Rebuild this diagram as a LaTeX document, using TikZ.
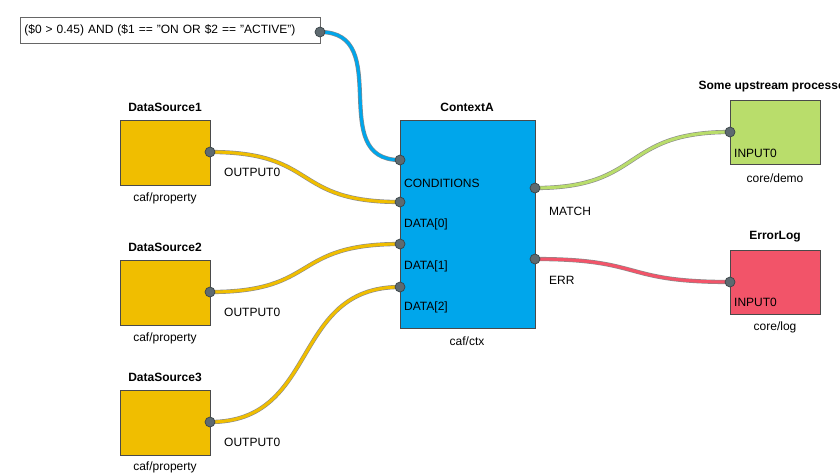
\documentclass[tikz,border=0pt]{standalone}
\usepackage{fontspec}
\setmainfont{Liberation Sans}
\definecolor{srcyellow}{HTML}{F0BE00}
\definecolor{ctxblue}{HTML}{00A6EB}
\definecolor{demogreen}{HTML}{B9DD6B}
\definecolor{logred}{HTML}{F25469}
\definecolor{boxedge}{HTML}{4A4A4A}
\definecolor{cableedge}{HTML}{8A8A8A}
\definecolor{portfill}{HTML}{5E6A70}
\definecolor{portedge}{HTML}{3A4448}
\begin{document}
\begin{tikzpicture}[x=1pt, y=-1pt, font=\fontsize{12}{14}\selectfont,
    block/.style={draw=boxedge, line width=0.8pt, anchor=north west, inner sep=0pt, minimum width=90pt, minimum height=65pt},
    title/.style={font=\fontsize{12}{14}\selectfont\bfseries},
    plabel/.style={anchor=west, inner sep=0pt},
    port/.style={circle, fill=portfill, draw=portedge, line width=0.7pt, inner sep=0pt, minimum size=10pt},
    cable/.style={draw=cableedge, line width=0.6pt, double=#1, double distance=3pt}]
    \useasboundingbox (0,0) rectangle (840,475);

    % Condition text
    \node[draw=gray!80!black, fill=white, line width=0.8pt, anchor=north west, minimum width=300pt, minimum height=26pt, inner sep=4pt, text width=292pt] (cond) at (20,17) {(\$0 > 0.45) AND (\$1 == "ON OR \$2 == "ACTIVE")};
    \coordinate (cond-out) at (320,32);

    % Data sources
    \node[block, fill=srcyellow] (ds1) at (120,120) {};
    \node[title] at (165,107) {DataSource1};
    \node at (165,198) {caf/property};
    \node[plabel] at (224,172) {OUTPUT0};
    \coordinate (ds1-out) at (210,152);

    \node[block, fill=srcyellow] (ds2) at (120,260) {};
    \node[title] at (165,247) {DataSource2};
    \node at (165,338) {caf/property};
    \node[plabel] at (224,312) {OUTPUT0};
    \coordinate (ds2-out) at (210,292);

    \node[block, fill=srcyellow] (ds3) at (120,390) {};
    \node[title] at (165,377) {DataSource3};
    \node at (165,467) {caf/property};
    \node[plabel] at (224,442) {OUTPUT0};
    \coordinate (ds3-out) at (210,422);

    % ContextA
    \node[block, fill=ctxblue, minimum width=135pt, minimum height=208pt] (ctx) at (400,120) {};
    \node[title] at (467,107) {ContextA};
    \node at (467,341) {caf/ctx};
    \node[plabel] at (404,183) {CONDITIONS};
    \node[plabel] at (404,224) {DATA[0]};
    \node[plabel] at (404,266) {DATA[1]};
    \node[plabel] at (404,307) {DATA[2]};
    \node[plabel] at (549,211) {MATCH};
    \node[plabel] at (549,280) {ERR};
    \coordinate (ctx-cond) at (400,160);
    \coordinate (ctx-d0) at (400,202);
    \coordinate (ctx-d1) at (400,244);
    \coordinate (ctx-d2) at (400,287);
    \coordinate (ctx-match) at (535,188);
    \coordinate (ctx-err) at (535,259);

    % Sinks
    \node[block, fill=demogreen, minimum height=64pt] (demo) at (730,100) {};
    \node[title] at (775,87) {Some upstream processes};
    \node at (775,178) {core/demo};
    \node[plabel] at (734,153) {INPUT0};
    \coordinate (demo-in) at (730,132);

    \node[block, fill=logred, minimum height=64pt] (errlog) at (730,250) {};
    \node[title] at (775,237) {ErrorLog};
    \node at (775,327) {core/log};
    \node[plabel] at (734,302) {INPUT0};
    \coordinate (errlog-in) at (730,282);

    % Cables
    \draw[cable=ctxblue] (cond-out) .. controls +(75,0) and +(-75,0) .. (ctx-cond);
    \draw[cable=srcyellow] (ds1-out) .. controls +(110,0) and +(-110,0) .. (ctx-d0);
    \draw[cable=srcyellow] (ds2-out) .. controls +(110,0) and +(-110,0) .. (ctx-d1);
    \draw[cable=srcyellow] (ds3-out) .. controls +(110,0) and +(-110,0) .. (ctx-d2);
    \draw[cable=demogreen] (ctx-match) .. controls +(110,0) and +(-110,0) .. (demo-in);
    \draw[cable=logred] (ctx-err) .. controls +(110,0) and +(-110,0) .. (errlog-in);

    % Ports
    \foreach \p in {cond-out, ds1-out, ds2-out, ds3-out, ctx-cond, ctx-d0, ctx-d1, ctx-d2, ctx-match, ctx-err, demo-in, errlog-in}
      \node[port] at (\p) {};
\end{tikzpicture}
\end{document}
